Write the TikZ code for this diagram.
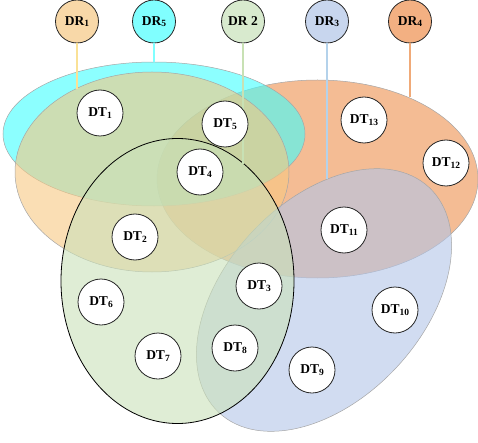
\documentclass[tikz,border=0pt]{standalone}
\usepackage{fontspec}
\setmainfont{Liberation Serif}
\usepackage{tikz}
\usetikzlibrary{positioning}

\definecolor{setorange}{RGB}{237,143,77}
\definecolor{setcyan}{RGB}{63,255,255}
\definecolor{setbeige}{RGB}{247,200,130}
\definecolor{setblue}{RGB}{178,197,232}
\definecolor{setgreen}{RGB}{202,225,185}
\definecolor{drbeige}{RGB}{248,216,168}
\definecolor{drcyan}{RGB}{128,255,255}
\definecolor{drgreen}{RGB}{216,234,206}
\definecolor{drblue}{RGB}{200,214,238}
\definecolor{drorange}{RGB}{243,176,130}
\definecolor{lnbeige}{RGB}{250,225,150}
\definecolor{lngreen}{RGB}{200,225,180}
\definecolor{lnblue}{RGB}{180,210,235}
\definecolor{lnorange}{RGB}{240,170,120}

\newcommand{\idx}[1]{\raisebox{-1.5pt}{\fontsize{9.5}{10}\selectfont #1}}

\begin{document}
\begin{tikzpicture}[x=1pt,y=1pt,
    dtnode/.style={draw=black!85, circle, fill=white, line width=0.8pt,
      minimum size=46pt, inner sep=0pt, font=\bfseries\fontsize{13.5}{14}\selectfont},
    drnode/.style={draw=black!85, circle, line width=0.8pt,
      minimum size=43pt, inner sep=0pt, font=\bfseries\fontsize{13.5}{14}\selectfont},
    setarea/.style={draw=gray!70, line width=0.5pt, fill opacity=0.6},
    link/.style={line width=1.5pt}]
\useasboundingbox (0,0) rectangle (478,442);

\draw[setarea, fill=setorange] (317.5,263) ellipse (160.5 and 99);
\draw[setarea, fill=setcyan] (154,308) ellipse (151 and 72);
\draw[setarea, fill=setbeige] (152,270) ellipse (137 and 100);
\draw[setarea, fill=setblue, rotate around={47:(324,142)}] (324,142) ellipse (154 and 99);
\draw[setarea, fill=setgreen, draw=black, line width=0.8pt] (177.5,161) ellipse (116.5 and 142.5);

\node[drnode, fill=drbeige] (dr1) at (77,420.5) {DR\idx{1}};
\node[drnode, fill=drcyan] (dr5) at (154,420.5) {DR\idx{5}};
\node[drnode, fill=drgreen] (dr2) at (243,420.5) {DR 2};
\node[drnode, fill=drblue] (dr3) at (327,420.5) {DR\idx{3}};
\node[drnode, fill=drorange] (dr4) at (410,420.5) {DR\idx{4}};

\coordinate (e1) at (77,353);
\coordinate (e5) at (154,380);
\coordinate (e2) at (243,278);
\coordinate (e3) at (327,263);
\coordinate (e4) at (410,345);

\foreach \u/\v/\c in {dr1/e1/lnbeige,dr5/e5/drcyan,dr2/e2/lngreen,dr3/e3/lnblue,dr4/e4/lnorange}
  \draw[link, \c] (\u) -- (\v);

\foreach \n/\x/\y in {1/100/329,5/225/318,4/200/270,2/135/205,13/364/322,12/446/279,11/344/212}
  \node[dtnode] (dt\n) at (\x,\y) {DT\idx{\n}};
\foreach \n/\x/\y in {3/259/156,6/101/140,7/158/86,8/235/94,9/312/72,10/395/132}
  \node[dtnode] (dt\n) at (\x,\y) {DT\idx{\n}};

\end{tikzpicture}
\end{document}
